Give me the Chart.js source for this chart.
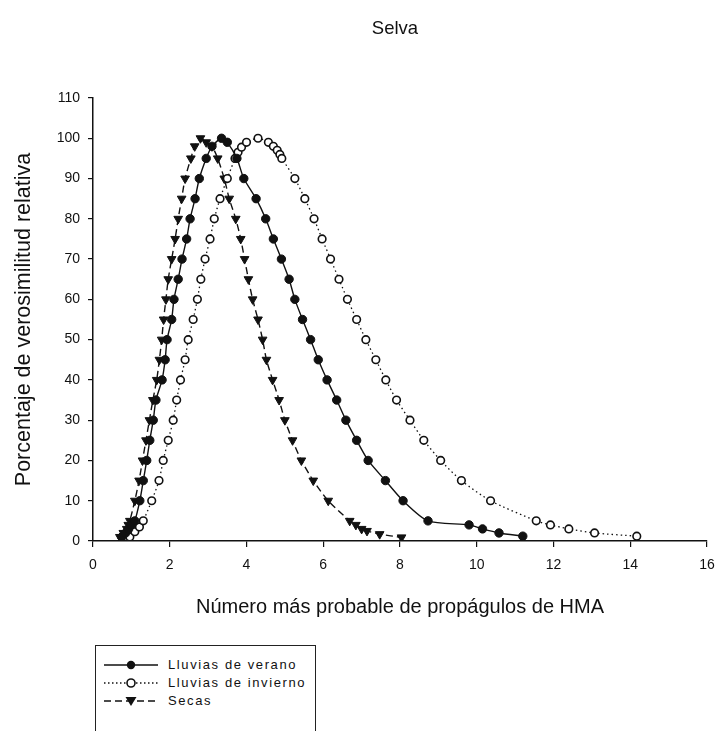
<!DOCTYPE html>
<html>
<head>
<meta charset="utf-8">
<script src="https://cdn.jsdelivr.net/npm/chart.js@4/dist/chart.umd.min.js"></script>
<style>
  html, body { margin:0; padding:0; background:#fff; }
  #wrap { position:relative; width:718px; height:731px; overflow:hidden; }
  #c { position:absolute; left:0; top:0; }
  #title { position:absolute; left:295px; width:200px; top:16px; text-align:center; font-family:"Liberation Sans", Arial, sans-serif; font-size:18.5px; color:#111; line-height:24px; }
  #legend { position:absolute; left:95px; top:645px; width:221px; height:110px; border:1px solid #222; box-sizing:border-box; background:#fff; }
  .row { position:absolute; left:0; height:18px; width:220px; }
  .row svg { position:absolute; left:6px; top:0; }
  .row span { position:absolute; left:72px; top:1px; font-family:"Liberation Sans", Arial, sans-serif; font-size:13px; letter-spacing:1.6px; color:#111; line-height:16px; white-space:nowrap; }
</style>
</head>
<body>
<div id="wrap">
<canvas id="c" width="718" height="731"></canvas>
<div id="title">Selva</div>
<div id="legend">
  <div class="row" style="top:10px">
    <svg width="60" height="18"><line x1="2" y1="9" x2="56" y2="9" stroke="#111" stroke-width="1.5"/><circle cx="29" cy="9" r="4.2" fill="#111"/></svg>
    <span>Lluvias de verano</span>
  </div>
  <div class="row" style="top:28px">
    <svg width="60" height="18"><line x1="2" y1="9" x2="56" y2="9" stroke="#111" stroke-width="1.3" stroke-dasharray="1.5,2.5"/><circle cx="29" cy="9" r="4" fill="#fff" stroke="#111" stroke-width="1.6"/></svg>
    <span>Lluvias de invierno</span>
  </div>
  <div class="row" style="top:46px">
    <svg width="60" height="18"><line x1="2" y1="9" x2="56" y2="9" stroke="#111" stroke-width="1.5" stroke-dasharray="7,4"/><polygon points="23.5,5 34.5,5 29,14" fill="#111"/></svg>
    <span>Secas</span>
  </div>
</div>
</div>
<script>
// ---- Data ----
const veranoX = [0.75,0.85,0.93,1.00,1.09,1.22,1.31,1.40,1.48,1.57,1.64,1.80,1.88,1.93,2.05,2.11,2.22,2.32,2.44,2.53,2.66,2.77,2.95,3.10,3.35,3.50,3.75,3.93,4.25,4.50,4.70,4.91,5.11,5.26,5.46,5.67,5.87,6.10,6.35,6.59,6.87,7.17,7.62,8.08,8.73,9.80,10.15,10.58,11.20];
const veranoY = [1,2,3,4,5,10,15,20,25,30,35,40,45,50,55,60,65,70,75,80,85,90,95,98,100,99,95,90,85,80,75,70,65,60,55,50,45,40,35,30,25,20,15,10,5,4,3,2,1.2];

const inviernoX = [0.96,1.09,1.21,1.31,1.53,1.72,1.83,1.96,2.09,2.18,2.28,2.40,2.48,2.61,2.72,2.81,2.92,3.05,3.16,3.31,3.50,3.70,3.78,3.87,4.00,4.30,4.57,4.70,4.80,4.87,4.92,5.26,5.52,5.76,5.97,6.19,6.41,6.63,6.87,7.11,7.37,7.63,7.91,8.26,8.62,9.06,9.60,10.36,11.55,11.92,12.40,13.07,14.17];
const inviernoY = [1,2.3,3.5,5,10,15,20,25,30,35,40,45,50,55,60,65,70,75,80,85,90,95,96.5,97.8,99,100,99,98,97,96,95,90,85,80,75,70,65,60,55,50,45,40,35,30,25,20,15,10,5,4,3,2,1.2];

const secasX = [0.70,0.79,0.88,0.92,0.96,1.09,1.20,1.29,1.38,1.47,1.56,1.66,1.73,1.79,1.84,1.90,1.96,2.05,2.14,2.22,2.31,2.40,2.55,2.65,2.80,2.95,3.10,3.25,3.42,3.55,3.72,3.85,3.95,4.05,4.16,4.30,4.42,4.52,4.68,4.85,5.00,5.20,5.43,5.74,6.13,6.69,6.85,7.00,7.14,7.47,8.04];
const secasY = [1,2,3,4,5,10,15,20,25,30,35,40,45,50,55,60,65,70,75,80,85,90,95,98,100,99,98,95,90,85,80,75,70,65,60,55,50,45,40,35,30,25,20,15,10,5,4,3,2.5,1.7,0.9];

const xTicks = [0,2,4,6,8,10,12,14,16];
const yTicks = [0,10,20,30,40,50,60,70,80,90,100,110];

const toPts = (xs, ys) => xs.map((x, i) => ({ x: x, y: ys[i] }));
const INK = '#111';
const FONT = '"Liberation Sans", Arial, sans-serif';

new Chart(document.getElementById('c'), {
  type: 'scatter',
  data: {
    datasets: [
      {
        label: 'Lluvias de verano',
        data: toPts(veranoX, veranoY),
        showLine: true, borderColor: INK, borderWidth: 1.4, tension: 0.25,
        pointStyle: 'circle', pointRadius: 4.2, pointBackgroundColor: INK, pointBorderColor: INK, pointBorderWidth: 1
      },
      {
        label: 'Lluvias de invierno',
        data: toPts(inviernoX, inviernoY),
        showLine: true, borderColor: INK, borderWidth: 1.3, borderDash: [1.5, 3], tension: 0.25,
        pointStyle: 'circle', pointRadius: 3.8, pointBackgroundColor: '#fff', pointBorderColor: INK, pointBorderWidth: 1.6
      },
      {
        label: 'Secas',
        data: toPts(secasX, secasY),
        showLine: true, borderColor: INK, borderWidth: 1.4, borderDash: [7, 4], tension: 0.25,
        pointStyle: 'triangle', pointRotation: 180, pointRadius: 5, pointBackgroundColor: INK, pointBorderColor: INK, pointBorderWidth: 1
      }
    ]
  },
  options: {
    responsive: false,
    animation: false,
    layout: { padding: { left: 0, right: 11, top: 98, bottom: 110 } },
    plugins: {
      legend: { display: false },
      tooltip: { enabled: false },
      title: { display: false }
    },
    scales: {
      x: {
        type: 'linear', min: 0, max: 16,
        afterBuildTicks: (s) => { s.ticks = xTicks.map(v => ({ value: v })); },
        afterFit: (s) => { s.height = 80; s.paddingRight = 0; s.paddingLeft = 0; },
        grid: { drawOnChartArea: false, drawTicks: true, tickLength: 6, color: INK, lineWidth: 1.2 },
        border: { display: true, color: INK, width: 1.5 },
        ticks: { color: INK, font: { family: FONT, size: 14 }, padding: 10, maxRotation: 0 },
        title: { display: true, text: 'Número más probable de propágulos de HMA', color: INK,
                 font: { family: FONT, size: 20 }, padding: { top: 0, bottom: 2 } }
      },
      y: {
        type: 'linear', min: 0, max: 110,
        afterBuildTicks: (s) => { s.ticks = yTicks.map(v => ({ value: v })); },
        afterFit: (s) => { s.width = 93; },
        grid: { drawOnChartArea: false, drawTicks: true, tickLength: 5, color: INK, lineWidth: 1.2 },
        border: { display: true, color: INK, width: 1.5 },
        ticks: { color: INK, font: { family: FONT, size: 14 }, padding: 8 },
        title: { display: true, text: 'Porcentaje de verosimilitud relativa', color: INK,
                 font: { family: FONT, size: 21.5 }, padding: { top: 11, bottom: 0 } }
      }
    }
  }
});
</script>
</body>
</html>
